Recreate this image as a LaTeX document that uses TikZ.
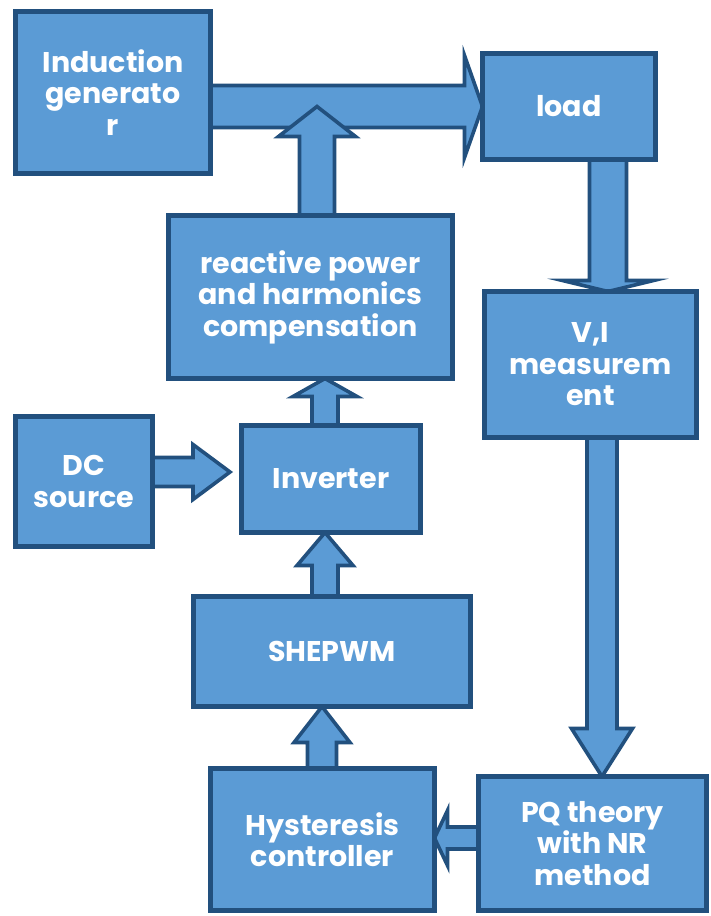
\documentclass[tikz,border=0pt]{standalone}
\usepackage{fontspec}
\setmainfont{Poppins}
\usetikzlibrary{calc,backgrounds}
\definecolor{boxfill}{HTML}{5B9BD5}
\definecolor{boxline}{HTML}{22507E}
\tikzset{
  blk/.style={rectangle, draw=boxline, fill=boxfill, line width=5pt, outer sep=0pt,
    inner sep=0pt, align=center, text=white,
    font=\fontsize{28.5}{31.5}\selectfont\bfseries},
  barrow/.style={draw=boxline, fill=boxfill, line width=3.6pt, line join=miter}
}
% right / left / up / down block arrows: start, tip, half shaft, half head, head length
\newcommand\arrR[5]{\draw[barrow] let \p1=(#1),\p2=(#2) in
  ({\x1},{\y1+#3}) -- ({\x2-#5},{\y1+#3}) -- ({\x2-#5},{\y1+#4}) -- ({\x2},{\y1})
  -- ({\x2-#5},{\y1-#4}) -- ({\x2-#5},{\y1-#3}) -- ({\x1},{\y1-#3}) -- cycle;}
\newcommand\arrL[5]{\draw[barrow] let \p1=(#1),\p2=(#2) in
  ({\x1},{\y1+#3}) -- ({\x2+#5},{\y1+#3}) -- ({\x2+#5},{\y1+#4}) -- ({\x2},{\y1})
  -- ({\x2+#5},{\y1-#4}) -- ({\x2+#5},{\y1-#3}) -- ({\x1},{\y1-#3}) -- cycle;}
\newcommand\arrU[5]{\draw[barrow] let \p1=(#1),\p2=(#2) in
  ({\x1+#3},{\y1}) -- ({\x1+#3},{\y2-#5}) -- ({\x1+#4},{\y2-#5}) -- ({\x1},{\y2})
  -- ({\x1-#4},{\y2-#5}) -- ({\x1-#3},{\y2-#5}) -- ({\x1-#3},{\y1}) -- cycle;}
\newcommand\arrD[5]{\draw[barrow] let \p1=(#1),\p2=(#2) in
  ({\x1+#3},{\y1}) -- ({\x1+#3},{\y2+#5}) -- ({\x1+#4},{\y2+#5}) -- ({\x1},{\y2})
  -- ({\x1-#4},{\y2+#5}) -- ({\x1-#3},{\y2+#5}) -- ({\x1-#3},{\y1}) -- cycle;}
\begin{document}
\begin{tikzpicture}[x=1pt,y=-1pt]
\useasboundingbox (0,0) rectangle (711,916);
% boxes
\node[blk, minimum width=195pt, minimum height=162pt] (gen) at (113,92.5) {Induction\\generato\\r};
\node[blk, minimum width=173pt, minimum height=106pt] (load) at (569,106.5) {load};
\node[blk, minimum width=284pt, minimum height=163pt] (react) at (310.5,297) {reactive power\\and harmonics\\compensation};
\node[blk, minimum width=137pt, minimum height=130pt] (dc) at (84,481.5) {DC\\source};
\node[blk, minimum width=179pt, minimum height=107pt] (inv) at (331,479) {Inverter};
\node[blk, minimum width=277pt, minimum height=110pt] (shep) at (332,651.5) {SHEPWM};
\node[blk, minimum width=224pt, minimum height=142pt] (hys) at (322.5,839.5) {Hysteresis\\controller};
\node[blk, minimum width=228pt, minimum height=134pt] (pq) at (592.5,843.5) {PQ theory\\with NR\\method};
\node[blk, minimum width=212pt, minimum height=146pt] (vi) at (590.5,364.5) {V,I\\measurem\\ent};
% connector end points
\coordinate (a1s) at (gen.east |- load.west);
\coordinate (a2s) at ($(react.north)+(6.5,0)$);
\coordinate (a2t) at (a2s |- load.west);
\coordinate (a3s) at ($(load.south)+(39,0)$);
\coordinate (a3t) at (a3s |- vi.north);
\coordinate (a4s) at ($(dc.east)+(0,-9.5)$);
\coordinate (a4t) at ($(inv.west)+(-11.5,0)$);
\coordinate (a5s) at ($(inv.north)+(-6,0)$);
\coordinate (a5t) at (a5s |- react.south);
\coordinate (a6s) at ($(shep.north)+(-7,0)$);
\coordinate (a6t) at (a6s |- inv.south);
\coordinate (a7s) at ($(hys.north)+(-0.5,0)$);
\coordinate (a7t) at (a7s |- shep.south);
\coordinate (a8s) at ($(vi.south)+(11.5,0)$);
\coordinate (a8t) at (a8s |- pq.north);
\coordinate (a9s) at ($(pq.west)+(0,-5.5)$);
\begin{scope}[on background layer]
\arrR{a1s}{load.west}{21pt}{51pt}{18pt}
\arrU{a2s}{a2t}{17.5pt}{38.5pt}{30pt}
\arrD{a3s}{a3t}{18.5pt}{45.5pt}{11pt}
\arrR{a4s}{a4t}{14.5pt}{27.5pt}{37pt}
\arrU{a5s}{a5t}{13pt}{32pt}{18pt}
\arrU{a6s}{a6t}{13pt}{28pt}{33pt}
\arrU{a7s}{a7t}{14.5pt}{28pt}{36pt}
\arrD{a8s}{a8t}{15pt}{30.5pt}{48pt}
\arrL{a9s}{hys.east}{11pt}{27.5pt}{13pt}
\end{scope}
\end{tikzpicture}
\end{document}
